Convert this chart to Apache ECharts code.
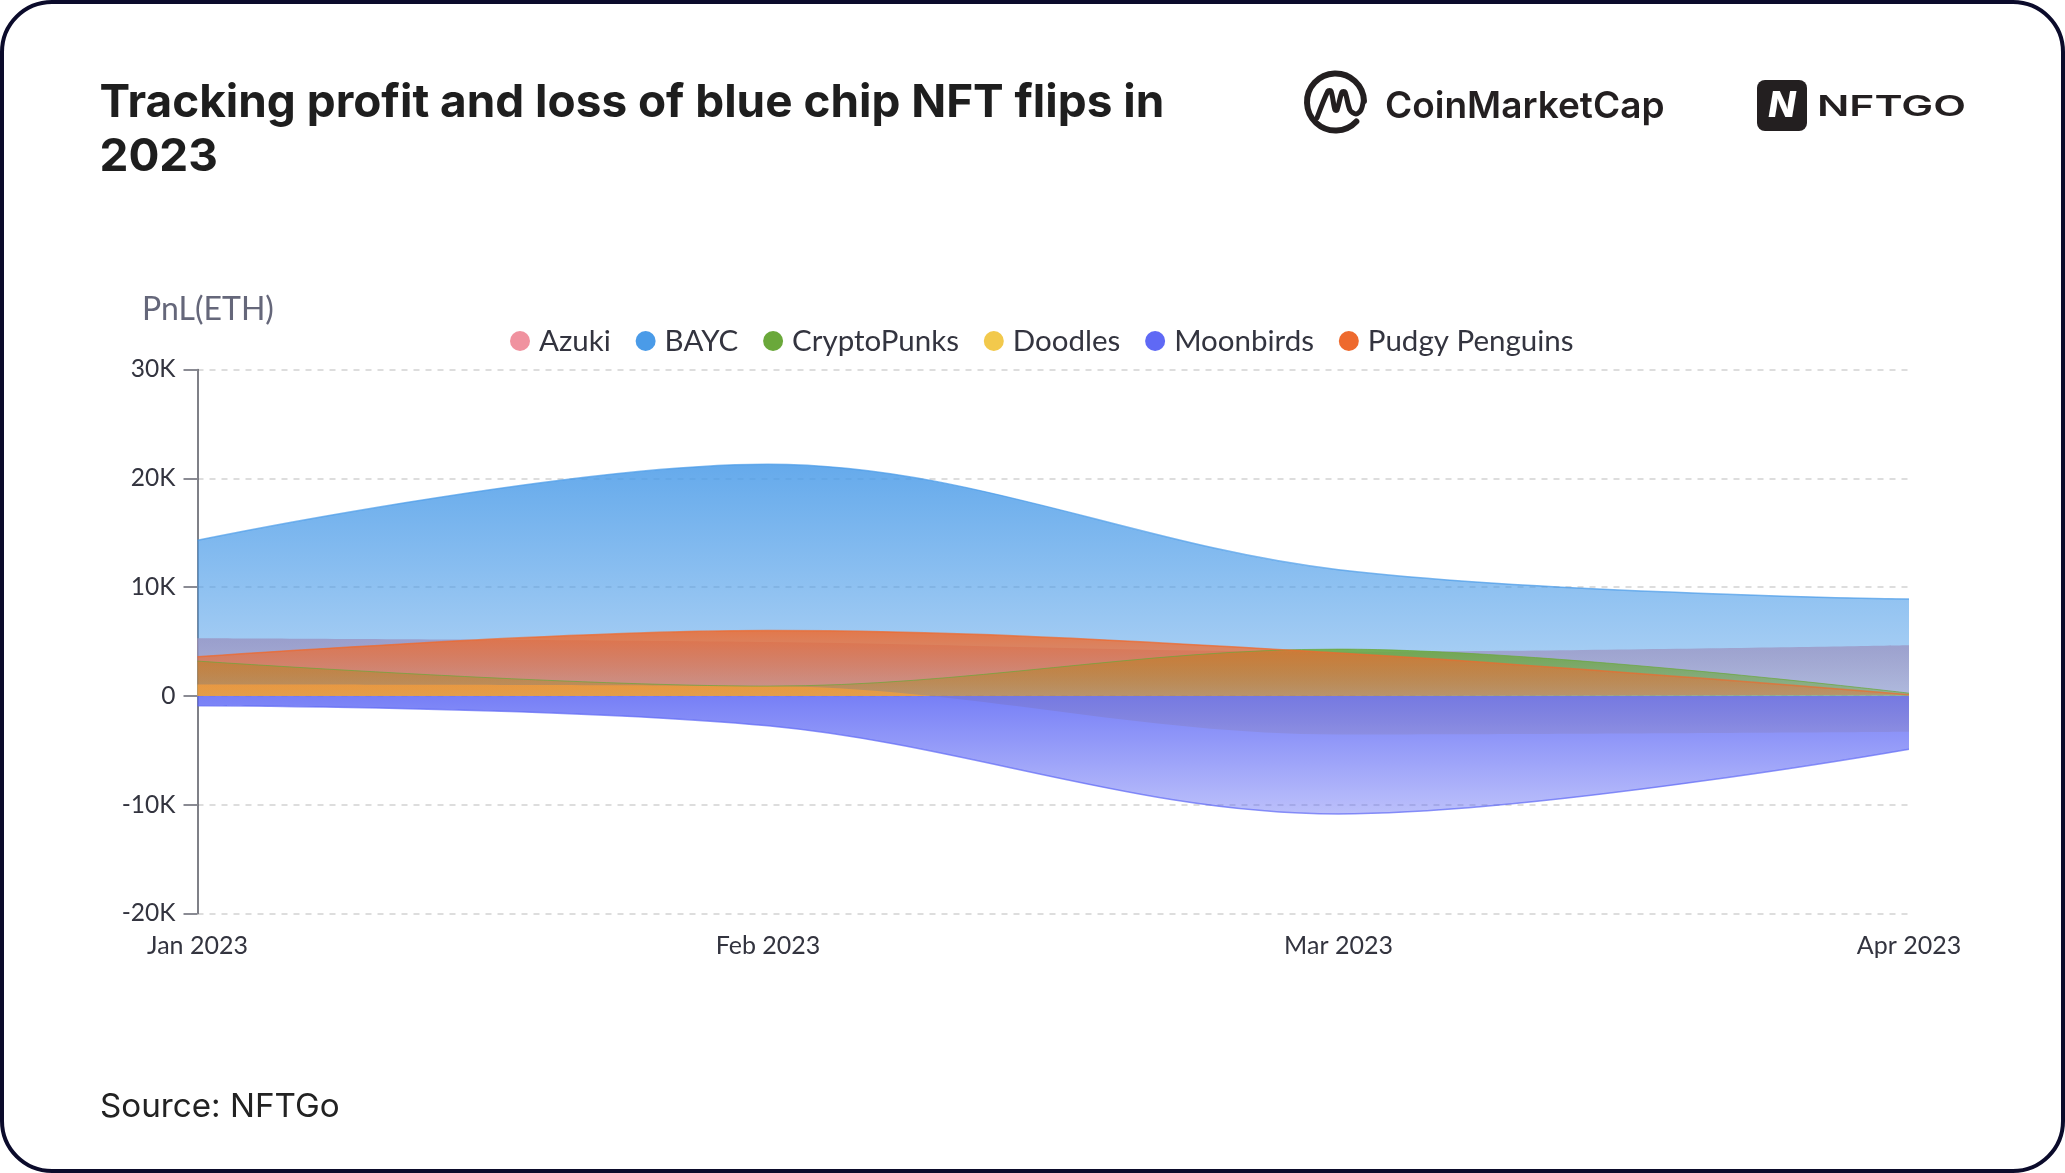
<!DOCTYPE html>
<html>
<head>
<meta charset="utf-8">
<title>Tracking profit and loss of blue chip NFT flips in 2023</title>
<script src="https://cdn.jsdelivr.net/npm/echarts@6/dist/echarts.min.js"></script>
<style>
  html, body { margin: 0; padding: 0; background: #fff; }
  #chart { width: 2065px; height: 1173px; }
</style>
</head>
<body>
<div id="chart"></div>
<script>
// values, in ETH
const months = ["Jan 2023", "Feb 2023", "Mar 2023", "Apr 2023"];
const azuki = [5300, 4950, 4050, 4650];
const bayc = [14300, 21300, 11600, 8900];
const cryptoPunks = [3200, 900, 4300, 250];
const doodles = [1050, 900, -3550, -3300];
const moonbirds = [-900, -2750, -10850, -4900];
const pudgyPenguins = [3600, 6000, 3950, 100];

const seriesNames = ["Azuki", "BAYC", "CryptoPunks", "Doodles", "Moonbirds", "Pudgy Penguins"];
const seriesValues = [azuki, bayc, cryptoPunks, doodles, moonbirds, pudgyPenguins];
const seriesColors = ["#F0929F", "#4A9BE8", "#6AA83A", "#F2C94C", "#5F69F5", "#EE6A2E"];
const lineWidths = [0, 1.5, 1, 0, 1.5, 1.5]; // Azuki, Doodles 선은 안 보임

const chart = echarts.init(document.getElementById("chart"), null, { renderer: "canvas" });

function rgba(hex, a) {
  const n = parseInt(hex.slice(1), 16);
  return `rgba(${n >> 16},${(n >> 8) & 255},${n & 255},${a})`;
}

const series = seriesNames.map((name, i) => ({
  name,
  type: "line",
  smooth: 0.35,
  showSymbol: false,
  data: seriesValues[i],
  itemStyle: { color: seriesColors[i] },
  lineStyle: { color: rgba(seriesColors[i], 0.7), width: lineWidths[i] },
  areaStyle: {
    opacity: 1,
    color: new echarts.graphic.LinearGradient(0, 0, 0, 1, [
      { offset: 0, color: rgba(seriesColors[i], 0.85) },
      { offset: 1, color: rgba(seriesColors[i], 0.42) },
    ]),
  },
}));

// 로고는 그림 요소로 직접 그림
const logos = [
  { type: "rect", shape: { x: 2, y: 2, width: 2061, height: 1169, r: 50 }, style: { fill: "none", stroke: "#0B0B2B", lineWidth: 4 }, z: 10 },
  { type: "arc", shape: { cx: 1335.5, cy: 102, r: 28.5, startAngle: 0.75, endAngle: 6.25, clockwise: true }, style: { fill: "none", stroke: "#231F20", lineWidth: 6, lineCap: "round" }, z: 10 },
  {
    type: "polyline",
    shape: {
      points: [[1317, 118], [1328, 91], [1331, 91], [1335, 110], [1337, 110], [1342, 92], [1345, 92], [1350, 110], [1356, 114], [1361, 110], [1363.5, 100]],
      smooth: 0.3,
    },
    style: { fill: "none", stroke: "#231F20", lineWidth: 5, lineCap: "round", lineJoin: "round" },
    z: 10,
  },
  { type: "text", x: 1385, y: 107, style: { text: "CoinMarketCap", fontFamily: "Inter", fontWeight: 600, fontSize: 37, fill: "#231F20", textVerticalAlign: "middle" }, z: 10 },
  { type: "rect", shape: { x: 1757, y: 80, width: 50, height: 51, r: 8 }, style: { fill: "#231F20" }, z: 10 },
  { type: "text", x: 1782, y: 106, style: { text: "N", fontFamily: "Inter", fontStyle: "italic", fontWeight: 800, fontSize: 36, fill: "#fff", textAlign: "center", textVerticalAlign: "middle" }, z: 11 },
  { type: "text", x: 1817, y: 107, scaleX: 1.47, style: { text: "NFTGO", fontFamily: "Inter", fontWeight: 600, fontSize: 29, fill: "#231F20", textVerticalAlign: "middle" }, z: 10 },
];

chart.setOption({
  animation: false,
  backgroundColor: "#fff",
  title: [
    {
      text: "Tracking profit and loss of blue chip NFT flips in\n2023",
      left: 99.5,
      top: 76,
      padding: 0,
      textStyle: { fontFamily: "Inter", fontWeight: 700, fontSize: 45.9, lineHeight: 54, color: "#1E1E1E" },
    },
    {
      text: "Source: NFTGo",
      left: 100,
      top: 1091,
      padding: 0,
      textStyle: { fontFamily: "Inter", fontWeight: 400, fontSize: 33.2, color: "#222" },
    },
  ],
  legend: {
    data: seriesNames,
    left: 510,
    top: 326,
    padding: 0,
    icon: "circle",
    itemWidth: 28,
    itemHeight: 20,
    itemGap: 24.8,
    textStyle: { fontFamily: "Lato", fontSize: 29.5, color: "#33343F" },
  },
  grid: { left: 197.5, right: 156, top: 369.5, bottom: 259.5 },
  xAxis: {
    type: "category",
    data: months,
    boundaryGap: false,
    axisLine: { show: false },
    axisTick: { show: false },
    axisLabel: { fontFamily: "Lato", fontSize: 25, color: "#33343F", margin: 20, showMinLabel: true, showMaxLabel: true, interval: 0 },
    splitLine: { show: false },
  },
  yAxis: {
    type: "value",
    min: -20000,
    max: 30000,
    interval: 10000,
    name: "PnL(ETH)",
    nameLocation: "end",
    nameGap: 44,
    nameTextStyle: { fontFamily: "Lato", fontSize: 32, color: "#65677A", align: "center", padding: [0, 0, 0, 21] },
    axisLine: { show: true, lineStyle: { color: "#55565F", width: 1.5 } },
    axisTick: { show: true, length: 14, lineStyle: { color: "#8A8B93", width: 2 } },
    axisLabel: {
      fontFamily: "Lato",
      fontSize: 24.5,
      color: "#33343F",
      margin: 22,
      padding: [6, 0, 0, 0],
      formatter: (v) => (v === 0 ? "0" : v / 1000 + "K"),
    },
    splitLine: { show: true, lineStyle: { color: "#DDDDDD", width: 2, type: [6, 6] } },
  },
  series,
  graphic: logos,
});
</script>
</body>
</html>
